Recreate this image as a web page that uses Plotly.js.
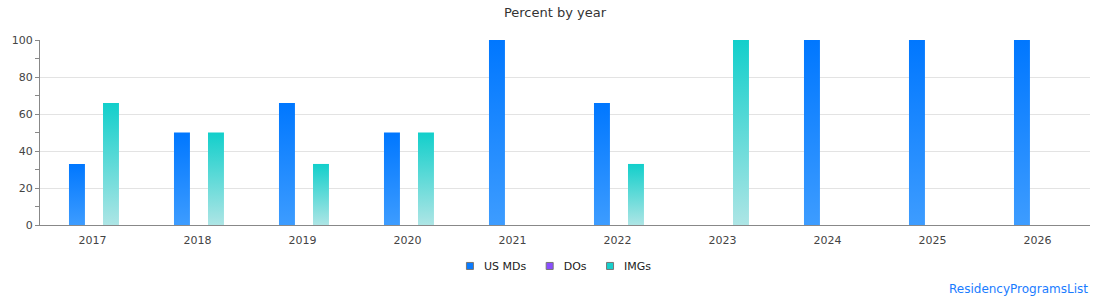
<!DOCTYPE html>
<html><head><meta charset="utf-8">
<script src="https://cdn.plot.ly/plotly-3.0.1.min.js"></script>
<style>html,body{margin:0;padding:0;background:#fff;}#chart{width:1110px;height:300px;}</style>
</head><body><div id="chart"></div>
<script>
const years = ['2017','2018','2019','2020','2021','2022','2023','2024','2025','2026'];
const usMDs = [33, 50, 66, 50, 100, 66, 0, 100, 100, 100];
const dos   = [0, 0, 0, 0, 0, 0, 0, 0, 0, 0];
const imgs  = [66, 50, 33, 50, 0, 33, 100, 0, 0, 0];
const seriesNames = ['US MDs', 'DOs', 'IMGs'];
const seriesColors = ['#0a7bff', '#8a4dff', '#17cfcb'];
const gradStops = [['#0077ff', '#3d9cff'], ['#7c3fff', '#b08cff'], ['#12cfcb', '#ade5e5']];
const barOffsets = [-0.224, -0.062, 0.1];
const barWidth = 0.152;

const font = 'DejaVu Sans, Verdana, sans-serif';
const data = [usMDs, dos, imgs].map((vals, i) => ({
  type: 'bar', x: years, y: vals, name: seriesNames[i],
  offset: barOffsets[i], width: barWidth,
  marker: {color: seriesColors[i], line: {width: 0}},
  hoverinfo: 'none'
}));

const layout = {
  width: 1110, height: 300,
  margin: {l: 40, r: 20, t: 40, b: 75},
  paper_bgcolor: '#fff', plot_bgcolor: '#fff',
  title: {text: 'Percent by year', font: {family: font, size: 13, color: '#333'}, x: 0.5, xanchor: 'center', y: 0.96, yanchor: 'middle'},
  barmode: 'overlay',
  showlegend: true,
  legend: {orientation: 'h', x: 0.4957, xanchor: 'center', y: -0.143, yanchor: 'top', font: {family: font, size: 11, color: '#222'}, itemwidth: 30},
  xaxis: {type: 'category', showline: true, linecolor: '#888', linewidth: 1, ticks: '', showgrid: false,
    ticklabelstandoff: 5,
    tickfont: {family: font, size: 11, color: '#444'}, fixedrange: true},
  yaxis: {range: [0, 100], tickvals: [0,20,40,60,80,100], showline: true, linecolor: '#888', linewidth: 1,
    ticks: 'outside', ticklen: 4, tickcolor: '#888', gridcolor: '#e3e3e3', zeroline: false,
    minor: {dtick: 10, ticks: 'outside', ticklen: 4, tickcolor: '#888', showgrid: false},
    tickfont: {family: font, size: 11, color: '#444'}, fixedrange: true},
  annotations: [{text: 'ResidencyProgramsList', xref: 'paper', yref: 'paper', x: 1.0, xanchor: 'right', y: -0.346, yanchor: 'middle',
    showarrow: false, font: {family: font, size: 12, color: '#1a7cff'}}]
};

Plotly.newPlot('chart', data, layout, {displayModeBar: false, staticPlot: true}).then(gd => {
  const svg = gd.querySelector('svg.main-svg');
  const ns = 'http://www.w3.org/2000/svg';
  let defs = svg.querySelector('defs');
  gradStops.forEach((s, i) => {
    const g = document.createElementNS(ns, 'linearGradient');
    g.setAttribute('id', 'grad' + i);
    g.setAttribute('x1', '0'); g.setAttribute('y1', '0'); g.setAttribute('x2', '0'); g.setAttribute('y2', '1');
    [[0, s[0]], [1, s[1]]].forEach(([o, c]) => {
      const st = document.createElementNS(ns, 'stop');
      st.setAttribute('offset', o); st.setAttribute('stop-color', c);
      g.appendChild(st);
    });
    defs.appendChild(g);
  });
  gd.querySelectorAll('.barlayer .trace').forEach((tr, i) => {
    tr.querySelectorAll('path').forEach(p => { p.style.fill = 'url(#grad' + i + ')'; });
  });
  // compact legend layout: small squares, 14px to text, 20px between items
  const items = Array.from(gd.querySelectorAll('.legend .traces'));
  const widths = items.map(it => it.querySelector('text.legendtext').getComputedTextLength());
  const symGap = 14, itemGap = 20, half = 3.5;
  const legendBg = gd.querySelector('.legend rect.bg');
  const W = legendBg ? parseFloat(legendBg.getAttribute('width')) : 300;
  let span = 0;
  widths.forEach((w, i) => { span += half + symGap + w + (i < widths.length - 1 ? itemGap : 0); });
  span += half;
  let x = (W - span) / 2 + half;
  items.forEach((it, i) => {
    const tr = it.getAttribute('transform') || '';
    const m = tr.match(/translate\(([-\d.]+)[ ,]+([-\d.]+)\)/);
    const y = m ? parseFloat(m[2]) : 0;
    it.setAttribute('transform', 'translate(' + (x - 20) + ',' + y + ')');
    const t = it.querySelector('text.legendtext');
    t.setAttribute('x', 20 + symGap);
    it.querySelectorAll('.legendpoints path').forEach(p => {
      p.setAttribute('d', 'M3.5,3.5H-3.5V-3.5H3.5Z');
      p.style.stroke = '#777'; p.style.strokeWidth = '1px';
      p.style.fill = seriesColors[i];
    });
    x += half + symGap + widths[i] + itemGap;
  });
});
</script></body></html>
